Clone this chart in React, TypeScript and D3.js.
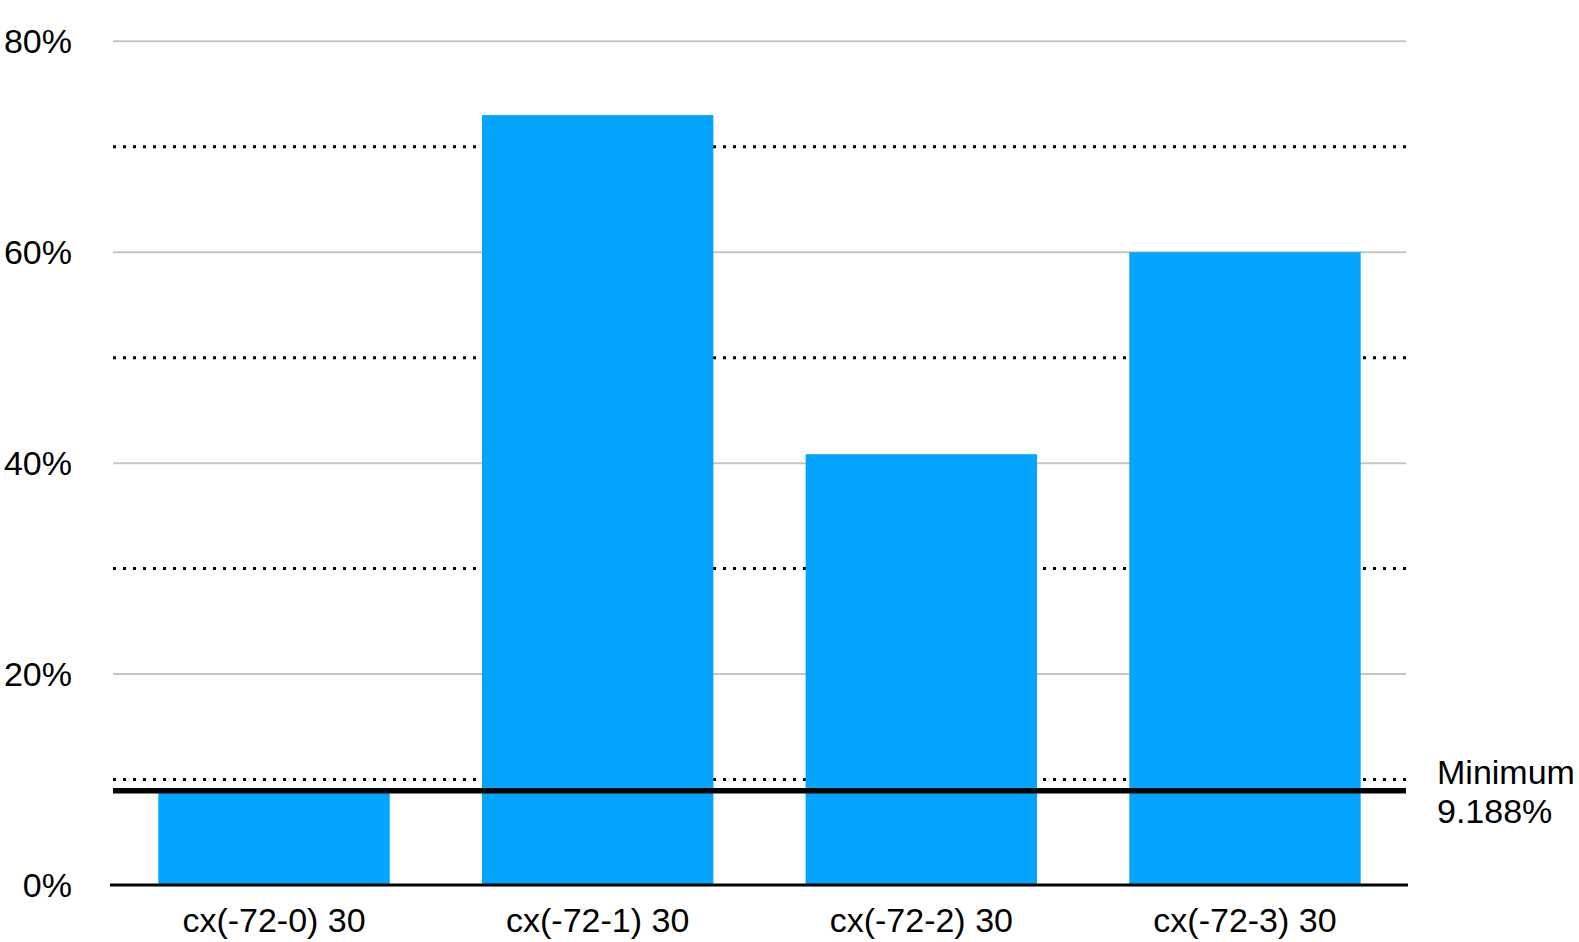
import React from "react";
import * as d3 from "d3";

const categories = ["cx(-72-0) 30", "cx(-72-1) 30", "cx(-72-2) 30", "cx(-72-3) 30"];
const values = [9.188, 73.0, 40.85, 60.0];
const majorTicks = [0, 20, 40, 60, 80];
const dottedTicks = [10, 30, 50, 70];
const minimumValue = 9.188;
const minimumLabel = ["Minimum", "9.188%"];

const W = 1579;
const H = 942;
const FONT = "'Liberation Sans', Arial, Helvetica, sans-serif";

export default function App() {
  const x = d3
    .scaleBand<string>()
    .domain(categories)
    .range([113, 1406])
    .paddingInner(0.285)
    .paddingOuter(0.14);

  const y = d3.scaleLinear().domain([0, 80]).range([885, 41.3]);

  const left = 113;
  const right = 1406;
  const minW = 5.5;
  // line sits just under the value
  const minY = y(minimumValue) + minW / 2;

  return (
    <svg
      width={W}
      height={H}
      style={{ position: "absolute", left: 0, top: 0, background: "#fff" }}
      fontFamily={FONT}
    >
      {/* grid */}
      {majorTicks
        .filter((t) => t !== 0)
        .map((t) => (
          <line
            key={"g" + t}
            x1={left}
            x2={right}
            y1={y(t)}
            y2={y(t)}
            stroke="#c6c6c6"
            strokeWidth={2}
          />
        ))}
      {dottedTicks.map((t) => (
        <line
          key={"d" + t}
          x1={left}
          x2={right}
          y1={y(t)}
          y2={y(t)}
          stroke="#000"
          strokeWidth={3}
          strokeDasharray="3 7"
        />
      ))}

      {/* bars */}
      {categories.map((c, i) => (
        <rect
          key={c}
          x={x(c)}
          y={y(values[i])}
          width={x.bandwidth()}
          height={y(0) - y(values[i])}
          fill="#03A5FF"
        />
      ))}

      {/* minimum line */}
      <line x1={left} x2={right} y1={minY} y2={minY} stroke="#000" strokeWidth={minW} />
      <text x={1437} fontSize={34} fill="#000">
        {minimumLabel.map((s, i) => (
          <tspan key={s} x={1437} y={minY - 7 + i * 39}>
            {s}
          </tspan>
        ))}
      </text>

      {/* x axis */}
      <line x1={110} x2={1408} y1={y(0)} y2={y(0)} stroke="#000" strokeWidth={3} />

      {/* y tick labels */}
      {majorTicks.map((t) => (
        <text
          key={"t" + t}
          x={72}
          y={y(t) + 12}
          textAnchor="end"
          fontSize={34}
          fill="#000"
        >
          {t}%
        </text>
      ))}

      {/* category labels */}
      {categories.map((c) => (
        <text
          key={"c" + c}
          x={(x(c) ?? 0) + x.bandwidth() / 2}
          y={932}
          textAnchor="middle"
          fontSize={34}
          fill="#000"
        >
          {c}
        </text>
      ))}
    </svg>
  );
}
